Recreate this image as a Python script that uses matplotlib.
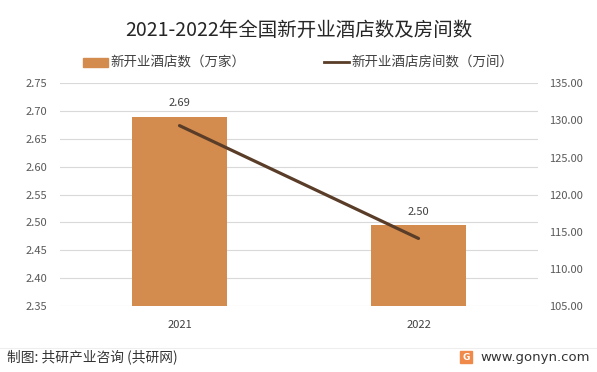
import matplotlib.pyplot as plt
from matplotlib.patches import Rectangle
from matplotlib.lines import Line2D

plt.rcParams['font.family'] = ['Noto Sans CJK SC', 'DejaVu Sans']

years = ['2021', '2022']
hotels = [2.69, 2.495]          # 新开业酒店数（万家）
hotel_labels = ['2.69', '2.50']
rooms = [129.3, 114.1]          # 新开业酒店房间数（万间）

bar_color = '#D38C4E'
line_color = '#5A3D28'
grid_color = '#D9D9D9'
tick_color = '#595959'

fig = plt.figure(figsize=(5.97, 3.72), dpi=100)
ax = fig.add_axes([60 / 597, 1 - 306 / 372, 478 / 597, 222.7 / 372])
ax2 = ax.twinx()

x = list(range(len(years)))
ax.bar(x, hotels, width=0.4, color=bar_color, zorder=2)
for xi, v, lab in zip(x, hotels, hotel_labels):
    ax.annotate(lab, (xi, v), xytext=(0, 6), textcoords='offset points',
                ha='center', va='bottom', fontsize=8, color='#404040')

ax.set_xlim(-0.5, 1.5)
ax.set_ylim(2.35, 2.75)
ax.set_yticks([2.35 + 0.05 * i for i in range(9)])
ax.set_yticklabels([f'{2.35 + 0.05 * i:.2f}' for i in range(9)])
ax.set_xticks(x)
ax.set_xticklabels(years)
ax.yaxis.grid(True, color=grid_color, linewidth=0.8, zorder=0)
ax.set_axisbelow(True)

ax2.plot(x, rooms, color=line_color, linewidth=2.3, solid_capstyle='round', zorder=3)
ax2.set_ylim(105, 135)
ax2.set_yticks([105 + 5 * i for i in range(7)])
ax2.set_yticklabels([f'{105 + 5 * i:.2f}' for i in range(7)])

for a in (ax, ax2):
    for s in a.spines.values():
        s.set_visible(False)
    a.tick_params(length=0, labelsize=8, colors=tick_color)
ax.tick_params(axis='x', pad=10, colors='#404040')
ax.tick_params(axis='y', pad=9)
ax2.tick_params(axis='y', pad=8)

# title and legend
fig.text(0.5, 1 - 30 / 372, '2021-2022年全国新开业酒店数及房间数', ha='center', va='center',
         fontsize=14, color='#262626')
handles = [Rectangle((0, 0), 1, 1, color=bar_color),
           Line2D([0], [0], color=line_color, linewidth=2)]
fig.legend(handles, ['新开业酒店数（万家）', '新开业酒店房间数（万间）'], loc='center',
           bbox_to_anchor=(0.5, 1 - 63 / 372), ncol=2, frameon=False, fontsize=9.7,
           handlelength=1.85, handletextpad=0.2, columnspacing=5.8, labelcolor='#404040')

# footer
fig.add_artist(Line2D([0.0, 1.0], [1 - 348 / 372] * 2, color='#EEEEEE', linewidth=0.8))
fig.text(7 / 597, 1 - 357 / 372, '制图: 共研产业咨询 (共研网)', ha='left', va='center',
         fontsize=9.9, color='#333333')
fig.text(590 / 597, 1 - 357 / 372, 'www.gonyn.com', ha='right', va='center',
         fontsize=9.5, color='#333333', family='DejaVu Sans')
fig.add_artist(Rectangle((460 / 597, 1 - 363 / 372), 12 / 597, 12 / 372,
                         color='#F08A4B', transform=fig.transFigure))
fig.text(466 / 597, 1 - 357 / 372, 'G', ha='center', va='center', fontsize=6.5,
         color='white', fontweight='bold', family='DejaVu Sans')

fig.savefig('out.png', dpi=100)
